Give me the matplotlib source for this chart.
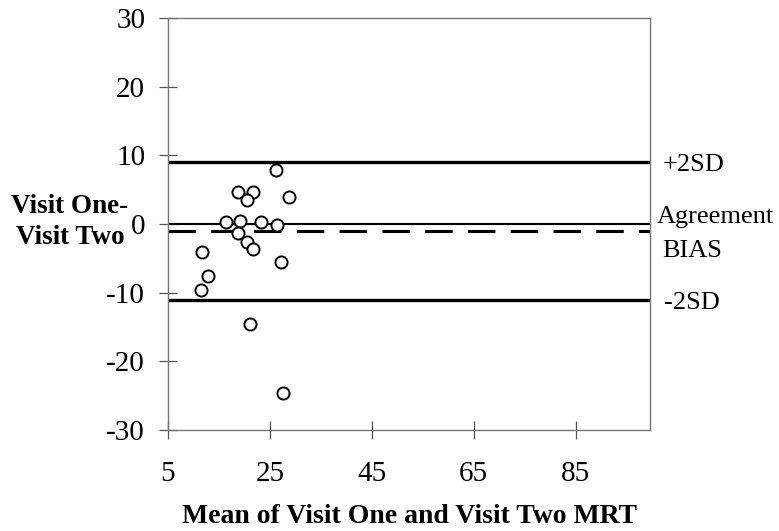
import matplotlib
matplotlib.use("Agg")
import matplotlib.pyplot as plt

# Mean of the two visits (x) and difference Visit One - Visit Two (y)
mean_mrt = [26.2, 18.7, 21.7, 20.5, 28.7, 16.4, 19.2, 23.2, 26.3, 18.7,
            20.5, 21.7, 11.6, 27.1, 12.8, 11.4, 21.0, 27.5]
diff_mrt = [7.8, 4.7, 4.7, 3.45, 3.9, 0.33, 0.48, 0.33, -0.15, -1.27,
            -2.66, -3.64, -4.03, -5.49, -7.6, -9.56, -14.6, -24.6]

agreement = 0.0
bias = -1.0
upper_sd = 9.0
lower_sd = -11.1

x_ticks = [5, 25, 45, 65, 85]
y_ticks = [-30, -20, -10, 0, 10, 20, 30]

plt.rcParams["font.family"] = ["Liberation Serif", "DejaVu Serif"]
plt.rcParams["axes.unicode_minus"] = False

W, H = 779, 531
fig = plt.figure(figsize=(W / 100, H / 100), dpi=100)
ax = fig.add_axes([168 / W, 1 - 430 / H, 482 / W, 412 / H])

ax.axhline(upper_sd, color="black", lw=2.4, zorder=2)
ax.axhline(lower_sd, color="black", lw=2.4, zorder=2)
ax.axhline(agreement, color="black", lw=1.5, zorder=2)
ax.axhline(bias, color="black", lw=2.2, ls=(0, (9, 5)), zorder=2)

ax.plot(mean_mrt, diff_mrt, ls="none", marker="o", ms=8.7,
        mfc="white", mec="black", mew=1.4, zorder=3)

ax.set_xlim(5, 99.6)
ax.set_ylim(-30, 30)
ax.set_xticks(x_ticks)
ax.set_yticks(y_ticks)
ax.tick_params(axis="both", direction="inout", length=13, width=0.9,
               color="#555555", labelsize=21)
ax.tick_params(axis="x", pad=16)
ax.tick_params(axis="y", pad=10)
for s in ax.spines.values():
    s.set_color("#777777")
    s.set_linewidth(1.0)

ax.set_xlabel("Mean of Visit One and Visit Two MRT", fontsize=20,
              fontweight="bold", labelpad=12)

fig.text(70 / W, 1 - 222 / H, "Visit One-\nVisit Two", fontsize=19.5,
         fontweight="bold", ha="center", va="center", linespacing=1.3)

yt = ax.get_yaxis_transform()
lbl = dict(transform=yt, fontsize=19, va="center", ha="left", clip_on=False)
ax.text(1.026, upper_sd - 0.4, "+2SD", **lbl)
ax.text(1.014, agreement + 1.0, "Agreement", **lbl)
ax.text(1.026, bias - 2.9, "BIAS", **lbl)
ax.text(1.029, lower_sd - 0.4, "-2SD", **lbl)

fig.savefig("out.png", dpi=100)
